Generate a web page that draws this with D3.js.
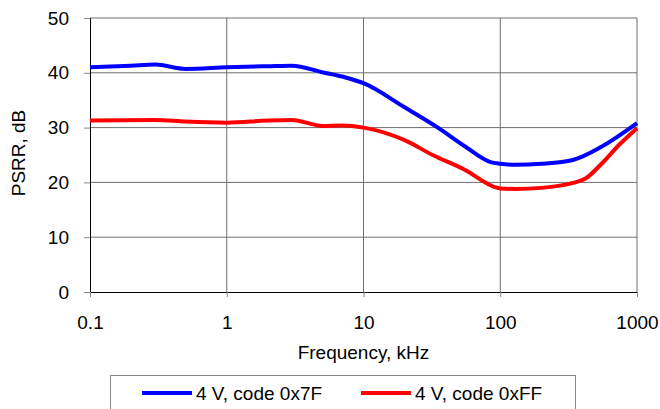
<!DOCTYPE html>
<html>
<head>
<meta charset="utf-8">
<script src="https://cdn.jsdelivr.net/npm/d3@7"></script>
<style>
  body { margin: 0; background: #fff; }
  svg { display: block; font-family: Arial, "Liberation Sans", sans-serif; }
  .ticklabel { font-size: 19px; fill: #000; }
  .title { font-size: 19px; fill: #000; }
</style>
</head>
<body>
<div id="chart"></div>
<script>
var width = 660;
var height = 409;

// PSRR vs frequency (kHz)
var blueFreq = [0.1, 0.2, 0.3, 0.5, 1, 2, 3, 5, 7.5, 10, 20, 35, 55, 85, 100, 130, 200, 340, 550, 1000];
var blueVals = [41.0, 41.3, 41.5, 40.7, 41.0, 41.2, 41.3, 40.1, 39.1, 38.1, 33.7, 30.0, 26.6, 23.7, 23.4, 23.2, 23.4, 24.1, 26.5, 30.8];
var redFreq = [0.1, 0.3, 0.5, 1, 2, 3, 5, 7, 10, 20, 32, 55, 90, 100, 130, 200, 340, 420, 550, 750, 1000];
var redVals = [31.3, 31.4, 31.1, 30.9, 31.3, 31.4, 30.3, 30.4, 30.0, 27.7, 25.0, 22.3, 19.2, 18.9, 18.8, 19.0, 19.9, 20.7, 23.4, 27.0, 29.9];

var xTicks = [0.1, 1, 10, 100, 1000];
var xTickLabels = ["0.1", "1", "10", "100", "1000"];
var yTicks = [0, 10, 20, 30, 40, 50];

var seriesNames = ["4 V, code 0x7F", "4 V, code 0xFF"];
var seriesColors = ["#0000ff", "#ff0000"];

var plot = { left: 90, right: 637, top: 18, bottom: 292 };

var x = d3.scaleLog()
  .domain([0.1, 1000])
  .range([plot.left, plot.right]);

var y = d3.scaleLinear()
  .domain([0, 50])
  .range([plot.bottom, plot.top]);

var svg = d3.select("#chart").append("svg")
  .attr("width", width)
  .attr("height", height);

// grid
svg.append("g").selectAll("line")
  .data(yTicks.slice(1))
  .enter().append("line")
    .attr("x1", plot.left).attr("x2", plot.right)
    .attr("y1", function(d) { return y(d); })
    .attr("y2", function(d) { return y(d); })
    .attr("stroke", "#6e6e6e")
    .attr("stroke-width", 1);

svg.append("g").selectAll("line")
  .data(xTicks.slice(1))
  .enter().append("line")
    .attr("x1", function(d) { return x(d); })
    .attr("x2", function(d) { return x(d); })
    .attr("y1", plot.top).attr("y2", plot.bottom)
    .attr("stroke", "#6e6e6e")
    .attr("stroke-width", 1);

// y axis
var yAxis = d3.axisLeft(y)
  .tickValues(yTicks)
  .tickSize(6)
  .tickPadding(15)
  .tickFormat(d3.format("d"));

var yg = svg.append("g")
  .attr("transform", "translate(" + plot.left + ",0)")
  .call(yAxis);
yg.select(".domain").attr("stroke", "#000");
yg.selectAll(".tick line").attr("stroke", "#888");
yg.selectAll(".tick text").attr("class", "ticklabel").attr("font-family", null).attr("font-size", null);

// x axis
var xAxis = d3.axisBottom(x)
  .tickValues(xTicks)
  .tickSize(5)
  .tickPadding(19)
  .tickFormat(function(d, i) { return xTickLabels[i]; });

var xg = svg.append("g")
  .attr("transform", "translate(0," + plot.bottom + ")")
  .call(xAxis);
xg.select(".domain").attr("stroke", "#000");
xg.selectAll(".tick line").attr("stroke", "#888");
xg.selectAll(".tick text").attr("class", "ticklabel").attr("font-family", null).attr("font-size", null);

// titles
svg.append("text")
  .attr("class", "title")
  .attr("x", (plot.left + plot.right) / 2)
  .attr("y", 359)
  .attr("text-anchor", "middle")
  .text("Frequency, kHz");

svg.append("text")
  .attr("class", "title")
  .attr("transform", "translate(25," + 153 + ") rotate(-90)")
  .attr("text-anchor", "middle")
  .text("PSRR, dB");

// lines
var line = d3.line()
  .x(function(d) { return x(d[0]); })
  .y(function(d) { return y(d[1]); })
  .curve(d3.curveMonotoneX);

var series = [
  d3.zip(blueFreq, blueVals),
  d3.zip(redFreq, redVals)
];

svg.append("g").selectAll("path")
  .data(series)
  .enter().append("path")
    .attr("d", line)
    .attr("fill", "none")
    .attr("stroke", function(d, i) { return seriesColors[i]; })
    .attr("stroke-width", 4)
    .attr("stroke-linejoin", "round");

// legend
var legend = svg.append("g");
legend.append("rect")
  .attr("x", 110.5).attr("y", 375.5)
  .attr("width", 465).attr("height", 50)
  .attr("fill", "#fff")
  .attr("stroke", "#888");

var legendX = [142, 361];
var items = legend.selectAll("g.item")
  .data(seriesNames)
  .enter().append("g")
    .attr("class", "item")
    .attr("transform", function(d, i) { return "translate(" + legendX[i] + ",393)"; });

items.append("line")
  .attr("x1", 0).attr("x2", 50)
  .attr("stroke", function(d, i) { return seriesColors[i]; })
  .attr("stroke-width", 4);

items.append("text")
  .attr("class", "title")
  .attr("x", 54)
  .attr("y", 6.5)
  .text(function(d) { return d; });
</script>
</body>
</html>
